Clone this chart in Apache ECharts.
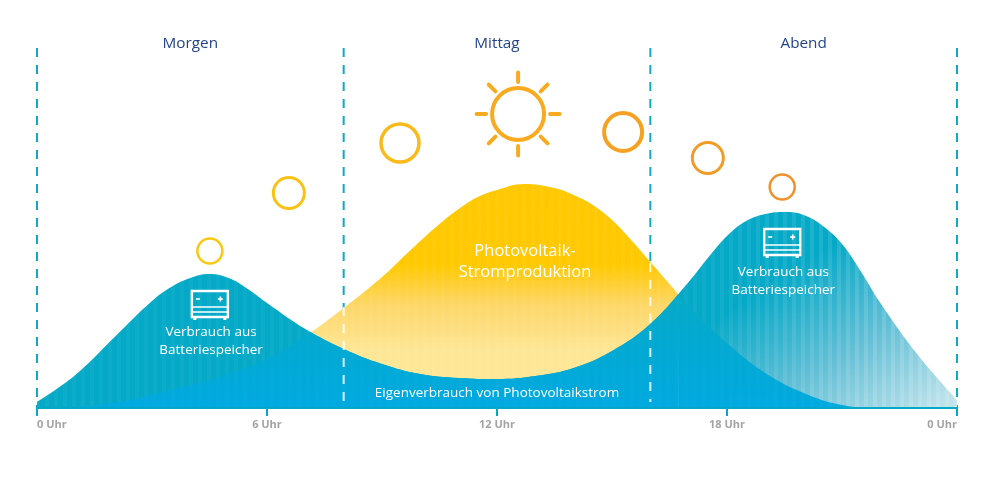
<!DOCTYPE html>
<html><head><meta charset="utf-8">
<style>html,body{margin:0;padding:0;background:#fff}#c{width:1000px;height:484px}</style>
<script src="https://cdn.jsdelivr.net/npm/echarts@6/dist/echarts.min.js"></script>
</head><body><div id="c"></div>
<script>
const tickLabels = {0:'0 Uhr',6:'6 Uhr',12:'12 Uhr',18:'18 Uhr',24:'0 Uhr'};
const consumption = [[0,6],[1,33],[2,70],[3,107],[3.5,121],[4,130],[4.5,134],[5,130],[5.5,119],[6,105],[7,79],[8,59],[9,44],[10,34],[11,30],[12,29],[13,32],[14,40],[15,57],[16,84],[17,126],[17.5,150],[18,172],[18.5,187],[19,194],[19.5,196],[20,193],[20.5,182],[21,164],[21.5,136],[22,105],[23,52],[24,8]];
const production = [[0,0],[1,1],[2,5],[3,13],[4,23],[5,34],[6,49],[7,72],[8,100],[9,131],[9.5,149],[10,167],[10.5,184],[11,199],[11.5,211],[12,218],[12.7,224],[13.5,220],[14,213],[14.5,203],[15,188],[15.5,168],[16,146],[16.5,124],[17,102],[18,65],[19,35],[20,15],[21,3],[22,0],[23,0],[24,0]];
const selfLeft = [[0,0],[1,1],[2,5],[3,13],[4,23],[5,34],[6,49],[7,72],[7.13,76]];
const selfMiddle = [[7.13,76],[8,59],[9,44],[10,34],[11,30],[12,29],[13,32],[14,40],[15,57],[16,84],[16.73,114]];
const selfRight = [[16.73,114],[17,102],[18,65],[19,35],[20,15],[21,3],[22,0],[23,0],[24,0]];
const periods = [[4,'Morgen'],[12,'Mittag'],[20,'Abend']];
const dividers = [0,8,16,24];
const dividerInner = [[8,6,101],[16,6,145]];
const suns = [[4.51,157],[6.57,215],[9.47,265],[12.55,294],[15.29,276],[17.5,250],[19.44,221]];
const mainSun = [12.55,294];
const batteries = [[4.51,103],[19.44,165]];
const notes = [[4.54,67,'Verbrauch aus\nBatteriespeicher'],[19.47,127,'Verbrauch aus\nBatteriespeicher'],[12.73,146,'Photovoltaik-\nStromproduktion'],[12,15,'Eigenverbrauch von Photovoltaikstrom']];

const sunStyle = [[25,2.5,'#f8c913'],[31,3,'#fbc113'],[38,3.5,'#fbb91a'],[52,4,'#f9aa1f'],[38,4,'#f7a122'],[31,3,'#f29b27'],[25,2.5,'#f0912c']];
const noteStyle = [[13.5,18],[13.5,18],[16.5,21],[13.5,16]];
const font = '"Open Sans","Noto Sans",sans-serif';

function stripeCanvas(base,peak){
  const c = document.createElement('canvas'); c.width = 999; c.height = 4;
  const g = c.getContext('2d');
  for(let x=0;x<999;x+=9){
    const t = Math.max(0,Math.min(1,(x-680)/200));
    g.fillStyle = 'rgba(255,255,255,'+(base+(peak-base)*t)+')';
    g.fillRect(x,0,4,4);
  }
  return c;
}
const stripeMain = {image:stripeCanvas(0.04,0.14),repeat:'repeat'};
const stripeSelf = {image:stripeCanvas(0.015,0.03),repeat:'repeat'};

const linear = (x,y,x2,y2,stops,global) => new echarts.graphic.LinearGradient(x,y,x2,y2,stops,global);
function area(name,data,color,z){
  return {name,type:'line',data,smooth:0.42,symbol:'none',z,silent:true,lineStyle:{width:0},areaStyle:{color,opacity:1}};
}
function dash(name,data,color,z){
  return {name,type:'line',data,z,silent:true,symbol:'none',clip:false,lineStyle:{color,width:2,type:[9,8]}};
}
const pvFill = linear(0,0,0,1,[{offset:0,color:'#ffc800'},{offset:0.36,color:'#ffc900'},{offset:0.54,color:'#fdd768'},{offset:0.74,color:'#fde695'},{offset:1,color:'#fde695'}]);
const consFill = linear(800,265,905,430,[{offset:0,color:'#04a9c7'},{offset:0.5,color:'#62bfd6'},{offset:1,color:'#bfe3eb'}],true);
const selfFill = linear(0,297,0,408,[{offset:0,color:'#05a9c8'},{offset:0.6,color:'#01a9d6'},{offset:1,color:'#00a9e0'}],true);

function batteryItem(params,api){
  const p = api.coord([api.value(0),api.value(1)]);
  const x = p[0], y = p[1];
  const st = {stroke:'#fff',lineWidth:2.4,fill:null};
  const ln = (a,b,c2,d,w) => ({type:'line',shape:{x1:x+a,y1:y+b,x2:x+c2,y2:y+d},style:{stroke:'#fff',lineWidth:w||1.6}});
  return {type:'group',children:[
    {type:'rect',shape:{x:x-18,y:y-14,width:36,height:26},style:st},
    ln(-14,-6,-10,-6),ln(8,-6,13,-6),ln(10.5,-8.5,10.5,-3.5),
    ln(-18,2,18,2),ln(-18,7,18,7),
    ln(-15,12,-15,15,3),ln(15,12,15,15,3)
  ]};
}
function raysItem(params,api){
  const p = api.coord([api.value(0),api.value(1)]);
  const kids = [];
  for(let i=0;i<8;i++){
    const a = i*Math.PI/4, s=Math.sin(a), k=Math.cos(a);
    kids.push({type:'line',shape:{x1:p[0]+32*k,y1:p[1]+32*s,x2:p[0]+41.5*k,y2:p[1]+41.5*s},style:{stroke:'#f9aa1f',lineWidth:4,lineCap:'round'}});
  }
  return {type:'group',children:kids};
}

const series = [
  ...dividers.map((d,i)=>dash('divider'+i,[[d,360],[d,d%24===0?0:6]],'#12a9c6',1)),
  area('pv',production,pvFill,2), area('pvS',production,stripeMain,3),
  area('cons',consumption,consFill,4), area('consS',consumption,stripeMain,5),
  area('selfL',selfLeft,selfFill,6), area('selfM',selfMiddle,selfFill,6), area('selfR',selfRight,selfFill,6),
  area('selfLS',selfLeft,stripeSelf,7), area('selfMS',selfMiddle,stripeSelf,7), area('selfRS',selfRight,stripeSelf,7),
  ...dividerInner.map((d,i)=>dash('inner'+i,[[d[0],d[2]],[d[0],d[1]]],'rgba(255,255,255,0.85)',8)),
  {type:'scatter',name:'suns',z:9,silent:true,symbol:'circle',clip:false,
   data:suns.map((s,i)=>({value:s,symbolSize:sunStyle[i][0],
     itemStyle:{opacity:1,color:'rgba(255,255,255,0)',borderColor:sunStyle[i][2],borderWidth:sunStyle[i][1]}}))},
  {type:'custom',name:'rays',z:9,silent:true,clip:false,data:[mainSun],renderItem:raysItem},
  {type:'custom',name:'batteries',z:10,silent:true,clip:false,data:batteries,renderItem:batteryItem},
  {type:'scatter',name:'periods',z:10,silent:true,symbolSize:0,clip:false,itemStyle:{opacity:1},
   data:periods.map(p=>({value:[p[0],364],name:p[1]})),
   label:{show:true,position:'inside',formatter:p=>p.name,color:'#24458a',fontFamily:font,fontSize:15.3}},
  {type:'scatter',name:'notes',z:10,silent:true,symbolSize:0,clip:false,itemStyle:{opacity:1},
   data:notes.map((n,i)=>({value:[n[0],n[1]],name:n[2],
     label:{fontSize:noteStyle[i][0],lineHeight:noteStyle[i][1]}})),
   label:{show:true,position:'inside',formatter:p=>p.name,color:'#fff',fontFamily:font,align:'center'}}
];

const chart = echarts.init(document.getElementById('c'),null,{renderer:'canvas'});
chart.setOption({
  animation:false,
  grid:{left:37,width:920,top:40,height:368,containLabel:false},
  xAxis:{type:'value',min:0,max:24,interval:6,z:20,splitLine:{show:false},
    axisLine:{onZero:false,lineStyle:{color:'#05a9c8',width:2}},
    axisTick:{show:true,length:8,lineStyle:{color:'#05a9c8',width:2}},
    axisLabel:{margin:11,color:'#a3a3a3',fontWeight:'bold',fontSize:11,fontFamily:font,
      alignMinLabel:'left',alignMaxLabel:'right',showMinLabel:true,showMaxLabel:true,
      formatter:v=>tickLabels[v]}},
  yAxis:{type:'value',min:0,max:368,show:false,splitLine:{show:false}},
  series
});
</script></body></html>
